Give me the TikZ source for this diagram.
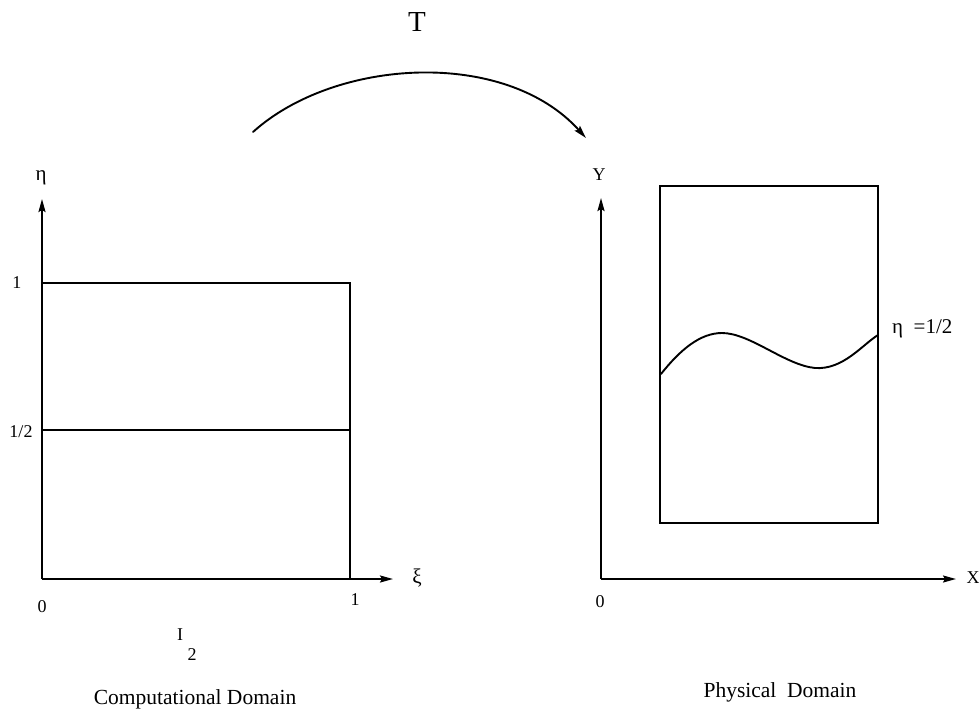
\documentclass[tikz,border=0pt]{standalone}
\usepackage{fontspec}
\setmainfont{Liberation Serif}
\usetikzlibrary{arrows.meta}
\begin{document}
\begin{tikzpicture}[x=1pt,y=-1pt,
  ln/.style={line width=1.9pt,line cap=round},
  ax/.style={line width=1.9pt,-{Stealth[length=13pt,width=7pt,inset=2pt]}},
  lbl/.style={inner sep=0pt,font=\fontsize{18}{18}\selectfont},
  big/.style={inner sep=0pt,font=\fontsize{21.5}{21.5}\selectfont},
  gr/.style={inner sep=0pt,font=\fontsize{21}{21}\selectfont}]
\useasboundingbox (0,0) rectangle (979,709);
% left panel
\coordinate (O1) at (42,579);
\coordinate (Ytip1) at (42,199);
\coordinate (Xtip1) at (393,579);
\coordinate (A1) at (42,283);
\coordinate (B1) at (350,283);
\coordinate (C1) at (350,579);
\coordinate (H1) at (42,430);
\coordinate (H2) at (350,430);
\draw[ax] (O1) -- (Ytip1);
\draw[ax] (O1) -- (Xtip1);
\draw[ln] (A1) -- (B1) -- (C1);
\draw[ln] (H1) -- (H2);
\node[gr] (eta) at (41,178) {η};
\node[gr] (xi) at (417,578) {ξ};
\node[lbl] (one) at (17,283) {1};
\node[lbl] (half) at (21,432) {1/2};
\node[lbl] (zero1) at (42,607) {0};
\node[lbl] (oneX) at (355,600) {1};
\node[lbl] (I) at (180,635) {I};
\node[lbl] (two) at (192,655) {2};
\node[big] (comp) at (195,699) {Computational Domain};
% right panel
\coordinate (O2) at (601,579);
\coordinate (Ytip2) at (601,198);
\coordinate (Xtip2) at (956,579);
\coordinate (R1) at (660,186);
\coordinate (R2) at (878,523);
\draw[ax] (O2) -- (Ytip2);
\draw[ax] (O2) -- (Xtip2);
\draw[ln] (R1) rectangle (R2);
\coordinate (S) at (661,374);
\coordinate (P) at (722,333);
\coordinate (Q) at (815,368);
\coordinate (E) at (878,335);
\draw[ln] (S) .. controls (680,350) and (700,333) .. (P)
  .. controls (750,333) and (785,365) .. (Q)
  .. controls (843,370) and (862,345) .. (E);
\node[lbl] (Ylab) at (599,175) {Y};
\node[lbl] (Xlab) at (973,578) {X};
\node[lbl] (zero2) at (600,602) {0};
\node[gr,anchor=west] (etahalf) at (892,329) {η\ \ =1/2};
\node[big] (phys) at (780,692) {Physical\ \ Domain};
% transformation arrow
\node[inner sep=0pt,font=\fontsize{29}{29}\selectfont] (T) at (417,22) {T};
\coordinate (TS) at (253,132);
\coordinate (TE) at (586,138);
\draw[line width=1.9pt,line cap=round,-{Stealth[length=13pt,width=7pt,inset=2pt]}] (TS) .. controls (335,58) and (505,48) .. (TE);
\end{tikzpicture}
\end{document}
